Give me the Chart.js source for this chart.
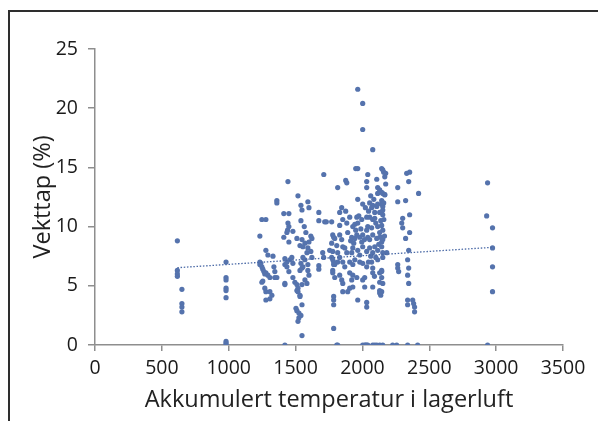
<!DOCTYPE html>
<html>
<head>
<meta charset="utf-8">
<script src="https://cdn.jsdelivr.net/npm/chart.js"></script>
<style>
  html, body { margin: 0; padding: 0; background: #fff; }
  #wrap { position: relative; width: 598px; height: 421px; }
  #frame { position: absolute; left: 8px; top: 10px; right: 0; bottom: 0;
           border-top: 2px solid #2e2e2e; border-left: 2px solid #2e2e2e; }
  canvas { position: absolute; left: 0; top: 0; }
</style>
</head>
<body>
<div id="wrap">
  <div id="frame"></div>
  <canvas id="chart" width="598" height="421"></canvas>
</div>
<script>
// Akkumulert temperatur (x) og vekttap i % (y), lest av figuren
const temperatur = [
  616, 616, 616, 616, 650, 650, 650, 650,
  980, 980, 980, 980, 980, 980, 980, 980, 980,
  1233, 1233, 1240, 1248, 1233, 1255, 1248, 1248, 1278, 1278, 1293, 1331, 1263, 1278, 1293, 1308,
  1270, 1278, 1308, 1323, 1308, 1278, 1338, 1345, 1345, 1360, 1360, 1360, 1255, 1270,
  1443, 1412, 1450, 1443, 1450, 1440, 1412, 1435, 1480, 1450, 1420, 1435, 1457, 1472, 1480,
  1420, 1420, 1480, 1495, 1420, 1420, 1435, 1450,
  1518, 1540, 1592, 1600, 1548, 1540, 1577, 1614, 1622, 1548, 1533, 1555, 1592, 1614, 1585,
  1555, 1570, 1622, 1540, 1548, 1555, 1533, 1592, 1592, 1600, 1510, 1518, 1548, 1570, 1585,
  1510, 1518, 1533, 1533, 1548, 1503, 1510, 1525, 1540, 1525, 1518, 1548, 1565, 1570, 1510, 1600,
  1711, 1674, 1674, 1718, 1770, 1674, 1674, 1703, 1710, 1730,
  1778, 1793, 1830, 1845, 1770, 1808, 1853, 1755, 1778, 1770, 1815, 1830, 1778, 1793, 1778,
  1815, 1853, 1778, 1793, 1830, 1845, 1853, 1853, 1785, 1785, 1785, 1785, 1808, 1815, 1815,
  1845, 1830, 1853, 1830, 1785, 1785, 1785,
  1965, 2002, 2002, 1950, 1965, 1875, 1883, 1965, 2002, 1875, 1905, 1883, 1928, 1943, 1965, 1995,
  1890, 1920, 1943, 1958, 1980, 2002, 1868, 1883, 1920, 1928, 1965, 1980, 2002, 1868, 1905, 1928,
  1943, 1980, 2002, 1905, 1928, 1920, 1958, 2002, 1905, 1890, 1928, 1965, 2002, 1958, 1973, 1988,
  1950, 1995, 1935, 1912,
  2040, 2032, 2032, 2107, 2114, 2054, 2077, 2107, 2114, 2069, 2092, 2032, 2040, 2054, 2077, 2092,
  2032, 2069, 2114, 2040, 2054, 2077, 2107, 2032, 2054, 2077, 2092, 2114, 2032, 2069, 2077, 2114,
  2017, 2077, 2017, 2077, 2032, 2032, 2017, 2024, 2032, 2040, 2077, 2092, 2107, 2077, 2062, 2085,
  2100, 2046, 2022, 2015, 2062, 2100, 2045, 2090,
  2144, 2159, 2167, 2152, 2174, 2174, 2129, 2144, 2167, 2114, 2144, 2129, 2152, 2152, 2144, 2152,
  2144, 2152, 2167, 2159, 2129, 2129, 2144, 2152, 2182, 2144, 2152, 2144, 2152, 2144, 2152, 2129,
  2144, 2129, 2144, 2144, 2152, 2144, 2137, 2129, 2129, 2129, 2152, 2137, 2160, 2122, 2165,
  2331, 2353, 2346, 2264, 2264, 2323, 2420, 2301, 2294, 2301, 2323, 2353, 2353, 2346, 2264, 2264,
  2271, 2338, 2346, 2338, 2346, 2338, 2338, 2376, 2383, 2390, 2390, 2226, 2256, 2338, 2413,
  2936, 2929, 2973, 2973, 2973, 2973, 2936
];
const vekttap = [
  8.8, 6.3, 6.0, 5.8, 4.7, 3.5, 3.2, 2.8,
  7.0, 5.7, 5.5, 4.8, 4.6, 4.0, 0.3, 0.15, 0.0,
  9.2, 7.0, 6.9, 6.6, 6.8, 6.4, 5.3, 10.6, 10.6, 8.0, 7.6, 7.5, 6.2, 6.1, 5.9, 5.7,
  4.8, 4.5, 4.5, 4.2, 3.9, 3.8, 6.6, 6.2, 5.7, 5.7, 12.2, 12.0, 5.4, 6.0,
  13.8, 11.1, 11.1, 10.3, 10.0, 9.7, 9.1, 9.5, 9.6, 8.7, 7.3, 7.0, 7.2, 7.4, 6.9,
  5.2, 5.1, 5.7, 5.3, 0.0, 6.8, 6.6, 6.2,
  12.6, 11.8, 12.1, 11.6, 11.4, 10.5, 9.5, 9.2, 9.0, 8.9, 8.4, 8.3, 8.2, 7.9, 7.8,
  7.4, 7.2, 7.4, 6.9, 6.5, 6.6, 6.3, 6.8, 6.3, 5.9, 5.1, 4.8, 5.1, 5.5, 5.2,
  4.6, 4.5, 4.2, 4.1, 3.4, 3.1, 2.9, 2.7, 2.5, 2.3, 2.0, 0.8, 10.0, 8.6, 9.0, 8.7,
  14.4, 11.2, 10.5, 10.4, 10.4, 6.7, 6.4, 7.8, 7.4, 10.4,
  9.3, 9.0, 9.3, 8.9, 8.6, 8.4, 8.3, 8.0, 7.9, 7.4, 7.8, 7.4, 7.2, 6.8, 6.3,
  7.0, 7.0, 6.1, 5.7, 5.9, 5.5, 5.2, 4.5, 4.1, 3.8, 3.4, 1.4, 0.0, 0.0, 13.3,
  11.6, 11.2, 10.6, 10.1, 9.1, 7.0, 6.8,
  21.6, 20.4, 18.2, 14.9, 14.9, 13.9, 13.7, 12.3, 11.9, 11.3, 10.8, 10.3, 10.0, 10.2, 10.3, 10.6,
  9.5, 9.1, 9.0, 9.3, 9.1, 9.3, 8.2, 7.8, 7.8, 8.2, 8.0, 7.6, 8.3, 6.6, 7.0, 6.8,
  7.2, 7.0, 6.9, 6.1, 5.9, 5.5, 5.7, 5.5, 4.8, 4.5, 4.9, 3.8, 0.0, 10.8, 10.9, 9.8,
  9.7, 8.7, 8.6, 8.8,
  14.4, 13.8, 13.3, 14.0, 13.3, 12.0, 11.8, 11.7, 11.9, 11.6, 11.2, 10.8, 10.0, 10.8, 10.6, 10.7,
  9.7, 9.9, 10.0, 9.1, 8.9, 9.3, 9.0, 7.9, 8.2, 7.8, 8.3, 8.0, 6.6, 7.0, 6.5, 7.2,
  5.7, 6.1, 4.9, 4.9, 3.6, 3.2, 0.0, 0.0, 0.0, 0.0, 0.0, 0.0, 0.0, 16.5, 12.6, 12.3,
  10.3, 11.3, 11.6, 8.9, 7.5, 7.4, 7.0, 5.8,
  14.9, 14.6, 14.2, 14.8, 14.5, 13.6, 13.1, 12.9, 12.7, 12.8, 11.9, 11.2, 11.4, 12.8, 12.2, 11.7,
  11.2, 11.0, 12.7, 12.0, 9.5, 9.1, 8.7, 7.8, 7.8, 10.1, 9.7, 9.1, 8.9, 8.3, 7.4, 6.1,
  6.3, 5.3, 6.2, 5.7, 5.2, 4.5, 4.2, 4.6, 4.4, 0.0, 0.0, 10.5, 10.6, 8.5, 9.2,
  14.5, 14.6, 13.8, 13.3, 12.1, 12.2, 12.8, 10.7, 10.3, 9.9, 9.0, 11.0, 9.5, 8.0, 6.8, 6.5,
  6.2, 7.2, 6.5, 5.9, 5.2, 3.8, 3.4, 3.8, 3.5, 3.2, 2.8, 0.0, 0.0, 0.0, 0.0,
  13.7, 10.9, 9.9, 8.2, 6.6, 4.5, 0.0
];

// Lineær trendlinje (lest av figuren)
const trendStigning = 0.00073;
const trendKonstant = 6.08;

const xTicks = [0, 500, 1000, 1500, 2000, 2500, 3000, 3500];
const yTicks = [0, 5, 10, 15, 20, 25];

const punkter = temperatur.map((t, i) => ({ x: t, y: vekttap[i] }));
const xMin = Math.min(...temperatur);
const xMax = Math.max(...temperatur);
const trend = [xMin, xMax].map(x => ({ x: x, y: trendKonstant + trendStigning * x }));

const fontFamily = '"Open Sans", "DejaVu Sans", sans-serif';
const axisColor = '#8e8e8e';
const textColor = '#1a1a1a';

new Chart(document.getElementById('chart'), {
  type: 'scatter',
  data: {
    datasets: [
      {
        data: punkter,
        backgroundColor: '#5573ad',
        borderWidth: 0,
        pointRadius: 2.6,
        order: 1
      },
      {
        type: 'line',
        data: trend,
        borderColor: '#4a69a6',
        borderWidth: 1.3,
        borderDash: [1.5, 1.7],
        pointRadius: 0,
        fill: false,
        tension: 0,
        order: 0
      }
    ]
  },
  options: {
    responsive: false,
    animation: false,
    devicePixelRatio: 1,
    layout: { padding: { left: 0, right: 35, top: 49, bottom: 0 } },
    plugins: {
      legend: { display: false },
      tooltip: { enabled: false }
    },
    scales: {
      x: {
        type: 'linear',
        min: 0,
        max: 3500,
        afterFit: scale => { scale.height = 76; },
        afterBuildTicks: scale => { scale.ticks = xTicks.map(v => ({ value: v })); },
        ticks: {
          padding: 6, color: textColor,
          font: { family: fontFamily, size: 19.5 },
          callback: v => String(v)
        },
        grid: { drawOnChartArea: false, drawTicks: true, tickLength: 6, color: axisColor, lineWidth: 1.5 },
        border: { display: true, color: axisColor, width: 1.5 },
        title: {
          display: true,
          text: 'Akkumulert temperatur i lagerluft',
          color: '#222',
          font: { family: fontFamily, size: 23.5 },
          padding: { top: 0, bottom: 7 }
        }
      },
      y: {
        type: 'linear',
        min: 0,
        max: 25,
        afterFit: scale => { scale.width = 95; },
        afterBuildTicks: scale => { scale.ticks = yTicks.map(v => ({ value: v })); },
        ticks: {
          padding: 10, color: textColor,
          font: { family: fontFamily, size: 19.5 },
          callback: v => String(v)
        },
        grid: { drawOnChartArea: false, drawTicks: true, tickLength: 7, color: axisColor, lineWidth: 1.5 },
        border: { display: true, color: axisColor, width: 1.5 },
        title: {
          display: true,
          text: 'Vekttap (%)',
          color: '#222',
          font: { family: fontFamily, size: 23.5 },
          padding: { top: 29, bottom: 0 }
        }
      }
    }
  }
});
</script>
</body>
</html>
